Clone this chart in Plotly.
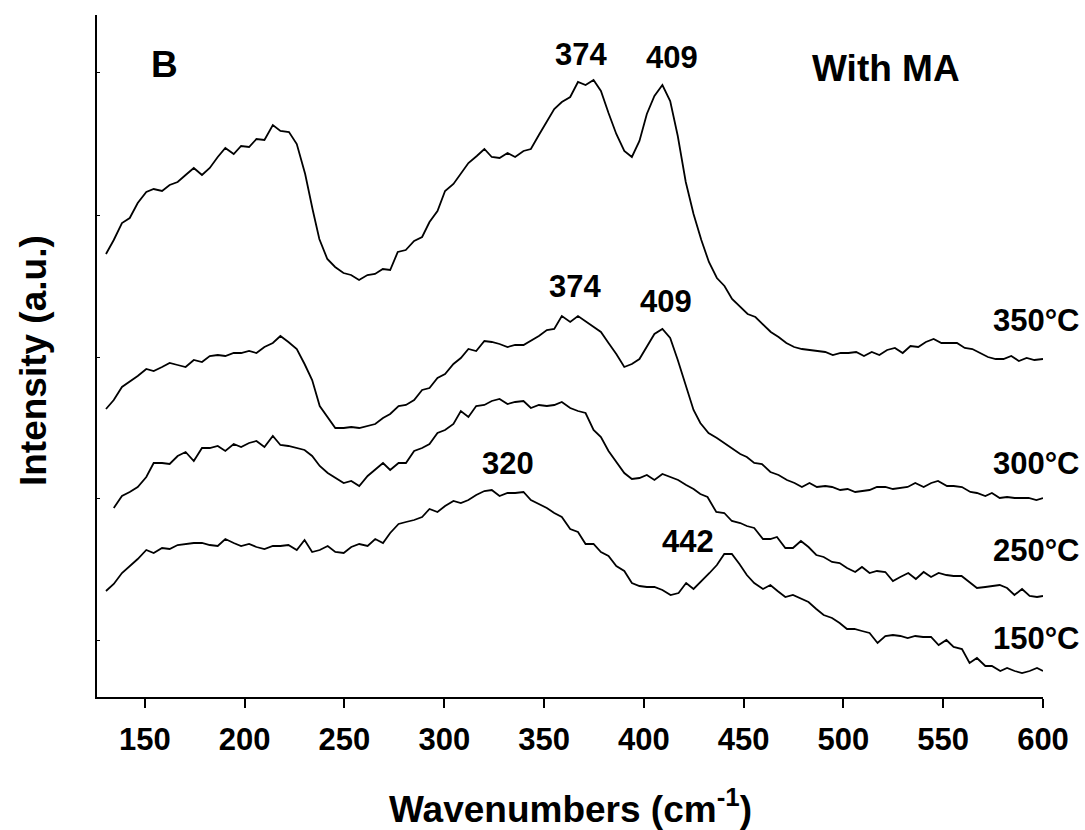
import plotly.graph_objects as go

# Raman spectra (with MA) after treatment at different temperatures, stacked offsets in a.u.
wn_350 = [130.5, 134.4, 138.5, 142.4, 146.4, 150.7, 154.4, 158.6, 162.4, 166.4, 170.4, 174.5, 178.6,
          182.5, 186.5, 190.3, 194.5, 198.2, 202.2, 205.9, 209.9, 214.1, 217.9, 222.2, 226.1, 230.3,
          234.1, 237.4, 241.4, 245.3, 249.5, 253.3, 257.3, 261.5, 265.3, 269.2, 272.9, 276.7, 280.7,
          284.9, 288.9, 292.6, 296.6, 300.4, 304.6, 308.3, 312.1, 316.3, 320.1, 323.8, 327.7, 331.7,
          335.5, 339.7, 343.4, 347.4, 351.4, 355.1, 358.9, 363.1, 367.0, 370.8, 374.8, 378.5, 382.3,
          386.2, 390.2, 394.0, 397.8, 401.5, 405.3, 409.3, 413.2, 417.0, 421.0, 424.9, 428.8, 432.6,
          436.6, 440.4, 444.2, 448.1, 452.0, 455.9, 459.7, 463.6, 467.5, 471.4, 475.3, 479.2, 483.1,
          487.0, 490.9, 494.7, 498.6, 502.5, 506.4, 510.3, 514.2, 518.0, 521.9, 525.8, 529.7, 533.6,
          537.5, 541.3, 545.2, 549.1, 553.0, 556.9, 560.8, 564.6, 568.5, 572.4, 576.3, 580.2, 584.1,
          587.9, 591.8, 595.7, 600.0]
int_350 = [4.46, 4.60, 4.77, 4.82, 4.97, 5.08, 5.11, 5.09, 5.15, 5.18, 5.25, 5.32, 5.25,
           5.32, 5.43, 5.52, 5.46, 5.54, 5.53, 5.61, 5.60, 5.75, 5.69, 5.68, 5.56, 5.26,
           4.90, 4.61, 4.41, 4.33, 4.27, 4.25, 4.20, 4.25, 4.26, 4.31, 4.30, 4.48, 4.50,
           4.59, 4.63, 4.78, 4.89, 5.09, 5.16, 5.26, 5.37, 5.44, 5.51, 5.43, 5.42, 5.47,
           5.43, 5.49, 5.51, 5.65, 5.79, 5.91, 5.98, 6.03, 6.18, 6.15, 6.20, 6.09, 5.87,
           5.66, 5.49, 5.43, 5.59, 5.86, 6.04, 6.15, 5.99, 5.64, 5.18, 4.86, 4.60, 4.38,
           4.22, 4.14, 4.01, 3.93, 3.86, 3.83, 3.76, 3.68, 3.63, 3.57, 3.53, 3.51, 3.50,
           3.49, 3.48, 3.45, 3.47, 3.47, 3.48, 3.44, 3.48, 3.45, 3.50, 3.52, 3.47, 3.54,
           3.53, 3.58, 3.61, 3.57, 3.57, 3.57, 3.52, 3.51, 3.47, 3.43, 3.41, 3.41, 3.44,
           3.39, 3.42, 3.40, 3.41]

wn_300 = [130.5, 134.4, 138.5, 142.4, 146.4, 150.7, 154.4, 158.6, 162.4, 166.4, 170.4, 174.5, 178.6,
          182.5, 186.5, 190.3, 194.5, 198.2, 202.2, 205.9, 209.9, 214.1, 217.9, 221.9, 226.1, 230.0,
          233.8, 237.6, 241.6, 245.4, 249.6, 253.4, 257.4, 261.6, 265.4, 269.3, 272.9, 277.1, 280.8,
          284.9, 288.9, 292.6, 296.6, 300.4, 304.6, 308.3, 312.1, 316.0, 320.1, 323.8, 327.7, 331.7,
          335.5, 339.7, 343.4, 347.4, 351.4, 355.1, 358.9, 363.1, 367.0, 370.8, 374.8, 378.5, 382.3,
          386.2, 390.2, 394.0, 397.8, 401.5, 405.3, 409.3, 413.2, 417.0, 421.2, 424.9, 428.3, 432.4,
          436.6, 440.3, 444.1, 448.3, 451.6, 455.3, 459.2, 463.4, 467.5, 471.7, 475.5, 479.2, 483.0,
          486.7, 490.9, 494.3, 498.4, 502.1, 505.9, 509.3, 513.1, 516.8, 521.0, 524.8, 528.5, 532.2,
          536.0, 540.2, 544.0, 547.4, 551.9, 555.2, 559.4, 563.6, 566.9, 571.1, 574.4, 578.3, 582.0,
          585.8, 589.5, 592.8, 596.7, 600.0]
int_300 = [2.91, 3.00, 3.13, 3.18, 3.24, 3.31, 3.29, 3.33, 3.37, 3.35, 3.33, 3.40, 3.38,
           3.44, 3.45, 3.44, 3.47, 3.47, 3.49, 3.47, 3.53, 3.57, 3.64, 3.58, 3.51, 3.36,
           3.20, 2.94, 2.83, 2.72, 2.72, 2.73, 2.72, 2.74, 2.76, 2.82, 2.86, 2.94, 2.95,
           3.00, 3.10, 3.12, 3.22, 3.26, 3.36, 3.42, 3.51, 3.49, 3.59, 3.58, 3.56, 3.53,
           3.55, 3.55, 3.59, 3.64, 3.70, 3.71, 3.84, 3.78, 3.84, 3.79, 3.73, 3.68, 3.57,
           3.46, 3.33, 3.36, 3.41, 3.54, 3.66, 3.71, 3.62, 3.40, 3.13, 2.90, 2.77, 2.67,
           2.62, 2.57, 2.51, 2.46, 2.43, 2.37, 2.36, 2.28, 2.25, 2.20, 2.17, 2.13, 2.17,
           2.13, 2.14, 2.13, 2.10, 2.11, 2.08, 2.09, 2.10, 2.13, 2.13, 2.11, 2.12, 2.13,
           2.17, 2.13, 2.17, 2.19, 2.14, 2.14, 2.13, 2.08, 2.07, 2.04, 2.07, 2.02, 2.03,
           2.02, 2.02, 2.02, 2.00, 2.02]

wn_250 = [134.4, 138.5, 142.4, 146.4, 150.7, 154.4, 158.6, 162.4, 166.4, 170.4, 174.5, 178.6,
          182.5, 186.5, 190.3, 194.5, 198.2, 202.2, 205.9, 209.9, 214.1, 217.9, 221.9, 226.1, 230.0,
          233.8, 237.6, 241.6, 245.4, 249.6, 253.4, 257.4, 261.6, 265.4, 269.3, 272.9, 277.1, 280.8,
          284.9, 288.9, 292.6, 296.6, 300.4, 304.6, 308.3, 312.1, 316.0, 320.1, 323.8, 327.7, 331.7,
          335.5, 339.7, 343.4, 347.4, 351.4, 355.1, 358.9, 363.1, 367.0, 370.8, 374.8, 378.5, 382.3,
          386.2, 390.2, 394.0, 397.8, 401.5, 405.3, 409.3, 413.2, 417.2, 421.2, 424.9, 428.3, 431.9,
          436.3, 440.3, 444.1, 448.3, 451.6, 455.3, 459.7, 463.4, 466.7, 470.9, 474.7, 478.7, 482.5,
          486.4, 490.1, 494.3, 498.1, 501.8, 505.9, 509.3, 513.1, 516.8, 521.0, 524.8, 528.5, 532.5,
          536.3, 540.2, 543.9, 547.7, 551.6, 555.2, 559.2, 563.0, 566.9, 571.1, 575.0, 578.3, 582.0,
          585.7, 589.5, 593.3, 597.0, 600.0]
int_250 = [1.92, 2.04, 2.08, 2.13, 2.23, 2.37, 2.37, 2.36, 2.44, 2.48, 2.39, 2.52,
           2.52, 2.54, 2.49, 2.56, 2.53, 2.57, 2.59, 2.53, 2.64, 2.55, 2.54, 2.52, 2.50,
           2.44, 2.34, 2.27, 2.22, 2.17, 2.19, 2.14, 2.24, 2.30, 2.37, 2.30, 2.37, 2.37,
           2.49, 2.52, 2.56, 2.67, 2.70, 2.76, 2.89, 2.83, 2.94, 2.95, 2.99, 3.01, 2.96,
           2.98, 2.99, 2.92, 2.95, 2.94, 2.95, 2.98, 2.92, 2.89, 2.87, 2.70, 2.63, 2.49,
           2.38, 2.27, 2.21, 2.22, 2.25, 2.20, 2.26, 2.23, 2.20, 2.15, 2.11, 2.06, 2.03,
           1.88, 1.87, 1.79, 1.77, 1.74, 1.72, 1.61, 1.61, 1.63, 1.52, 1.52, 1.59, 1.53,
           1.45, 1.43, 1.38, 1.37, 1.32, 1.28, 1.33, 1.27, 1.29, 1.28, 1.19, 1.23, 1.27,
           1.21, 1.28, 1.23, 1.27, 1.25, 1.24, 1.24, 1.18, 1.12, 1.13, 1.14, 1.15, 1.12,
           1.05, 1.11, 1.04, 1.03, 1.04]

wn_150 = [130.5, 134.4, 138.5, 142.4, 146.4, 150.7, 154.4, 158.6, 162.4, 166.4, 170.4, 174.5, 178.6,
          182.5, 186.5, 190.3, 194.5, 198.2, 202.2, 205.9, 209.9, 214.1, 217.9, 221.9, 226.1, 230.0,
          233.8, 237.6, 241.6, 245.4, 249.6, 253.4, 257.4, 261.6, 265.4, 269.3, 272.9, 277.1, 280.8,
          284.9, 288.9, 292.6, 296.6, 300.4, 304.6, 308.3, 312.1, 316.0, 320.1, 323.8, 327.7, 331.7,
          335.5, 339.7, 343.4, 347.4, 351.4, 355.1, 358.9, 363.1, 367.0, 370.8, 374.8, 378.5, 382.3,
          386.2, 390.2, 394.0, 397.8, 401.5, 405.3, 409.3, 413.4, 417.4, 421.2, 424.9, 429.1, 432.9,
          436.6, 440.3, 444.1, 447.9, 451.6, 455.3, 459.7, 463.4, 467.0, 470.9, 474.7, 478.7, 482.5,
          486.4, 490.1, 494.3, 498.1, 501.8, 505.5, 509.3, 513.1, 517.1, 521.0, 524.8, 528.5, 532.2,
          536.0, 539.9, 543.9, 547.7, 551.6, 555.2, 559.4, 563.2, 566.9, 571.1, 574.4, 578.6, 582.0,
          585.8, 589.5, 593.3, 597.0, 600.0]
int_150 = [1.09, 1.16, 1.27, 1.34, 1.41, 1.50, 1.47, 1.52, 1.51, 1.55, 1.56, 1.57, 1.57,
           1.55, 1.54, 1.61, 1.57, 1.54, 1.56, 1.53, 1.51, 1.54, 1.54, 1.55, 1.50, 1.60,
           1.48, 1.50, 1.54, 1.48, 1.47, 1.53, 1.56, 1.54, 1.61, 1.57, 1.67, 1.76, 1.78,
           1.80, 1.83, 1.91, 1.88, 1.94, 1.99, 1.97, 2.00, 2.05, 2.09, 2.10, 2.04, 2.07,
           2.07, 2.08, 2.00, 1.96, 1.92, 1.87, 1.83, 1.71, 1.68, 1.56, 1.56, 1.48, 1.44,
           1.34, 1.29, 1.17, 1.14, 1.13, 1.13, 1.10, 1.05, 1.07, 1.17, 1.11, 1.19, 1.27,
           1.35, 1.46, 1.46, 1.36, 1.25, 1.17, 1.11, 1.15, 1.09, 1.03, 1.05, 1.01, 0.98,
           0.91, 0.85, 0.82, 0.77, 0.71, 0.71, 0.69, 0.67, 0.57, 0.64, 0.65, 0.64, 0.62,
           0.64, 0.63, 0.63, 0.55, 0.60, 0.53, 0.51, 0.37, 0.42, 0.34, 0.34, 0.29, 0.32,
           0.29, 0.27, 0.29, 0.32, 0.29]

# Temperature labels at the right end of each spectrum: (text, x, y)
temp_labels = [("350°C", 596.7, 3.80), ("300°C", 596.7, 2.37),
               ("250°C", 596.7, 1.50), ("150°C", 596.7, 0.62)]
# Band positions marked above the peaks: (text, x, y)
peak_labels = [("374", 368.6, 6.46), ("409", 414.0, 6.43),
               ("374", 365.6, 4.14), ("409", 411.2, 3.99),
               ("320", 331.8, 2.37), ("442", 422.0, 1.59)]

x_ticks = [150, 200, 250, 300, 350, 400, 450, 500, 550, 600]
y_ticks = [0.60, 2.02, 3.43, 4.85, 6.28]

FONT = "Liberation Sans, Arial, Helvetica, sans-serif"

fig = go.Figure()
for wn, inten in [(wn_350, int_350), (wn_300, int_300), (wn_250, int_250), (wn_150, int_150)]:
    fig.add_trace(go.Scatter(x=wn, y=inten, mode="lines",
                             line=dict(color="black", width=1.8),
                             showlegend=False, hoverinfo="skip"))

annotations = []
for text, x, y in temp_labels + peak_labels:
    annotations.append(dict(text=text, x=x, y=y, xref="x", yref="y", showarrow=False,
                            xanchor="center", yanchor="middle",
                            font=dict(family=FONT, size=31, color="black", weight="bold")))

annotations += [
    dict(text="B", x=159.6, y=6.36, xref="x", yref="y", showarrow=False,
         xanchor="center", yanchor="middle",
         font=dict(family=FONT, size=37, color="black", weight="bold")),
    dict(text="With MA", x=521.5, y=6.32, xref="x", yref="y", showarrow=False,
         xanchor="center", yanchor="middle",
         font=dict(family=FONT, size=37, color="black", weight="bold")),
    dict(text="Wavenumbers (cm<sup>-1</sup>)", x=0.5005, y=-0.160, xref="paper", yref="paper",
         showarrow=False, xanchor="center", yanchor="middle",
         font=dict(family=FONT, size=37, color="black", weight="bold")),
    dict(text="Intensity (a.u.)", x=-0.0677, y=0.494, xref="paper", yref="paper",
         showarrow=False, xanchor="center", yanchor="middle", textangle=-90,
         font=dict(family=FONT, size=37, color="black", weight="bold")),
]

fig.update_layout(
    width=1085, height=830,
    margin=dict(l=97, r=42, t=15, b=133),
    paper_bgcolor="white", plot_bgcolor="white",
    font=dict(family=FONT, color="black"),
    annotations=annotations,
    xaxis=dict(range=[126, 600], tickmode="array", tickvals=x_ticks,
               ticks="outside", ticklen=9, tickwidth=1.5, tickcolor="black",
               ticklabelstandoff=5,
               showline=True, linewidth=2, linecolor="black",
               showgrid=False, zeroline=False,
               tickfont=dict(family=FONT, size=31, color="black", weight="bold")),
    yaxis=dict(range=[0.03, 6.85], tickmode="array", tickvals=y_ticks,
               ticks="inside", ticklen=3, tickwidth=1, tickcolor="black",
               showticklabels=False,
               showline=True, linewidth=2, linecolor="black",
               showgrid=False, zeroline=False),
)

fig.write_html("out.html")
